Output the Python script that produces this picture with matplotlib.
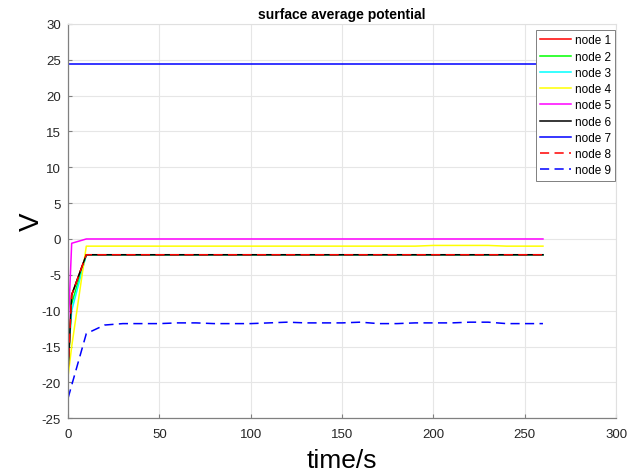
import matplotlib.pyplot as plt

plt.rcParams['font.family'] = ['Liberation Sans', 'DejaVu Sans']
plt.rcParams['axes.unicode_minus'] = False

# sample times (s)
t = [0, 2, 10, 20, 30, 40, 50, 60, 70, 80, 90, 100, 110, 120, 130, 140, 150,
     160, 170, 180, 190, 200, 210, 220, 230, 240, 250, 260]
t9 = [0, 10, 20, 30, 40, 50, 60, 70, 80, 90, 100, 110, 120, 130, 140, 150,
      160, 170, 180, 190, 200, 210, 220, 230, 240, 250, 260]

node1 = [-18.5, -7.8, -2.2, -2.2, -2.2, -2.2, -2.2, -2.2, -2.2, -2.2, -2.2, -2.2, -2.2, -2.2,
         -2.2, -2.2, -2.2, -2.2, -2.2, -2.2, -2.2, -2.2, -2.2, -2.2, -2.2, -2.2, -2.2, -2.2]
node2 = [-18.3, -9.0, -2.2, -2.2, -2.2, -2.2, -2.2, -2.2, -2.2, -2.2, -2.2, -2.2, -2.2, -2.2,
         -2.2, -2.2, -2.2, -2.2, -2.2, -2.2, -2.2, -2.2, -2.2, -2.2, -2.2, -2.2, -2.2, -2.2]
node3 = [-17.0, -10.0, -2.2, -2.2, -2.2, -2.2, -2.2, -2.2, -2.2, -2.2, -2.2, -2.2, -2.2, -2.2,
         -2.2, -2.2, -2.2, -2.2, -2.2, -2.2, -2.2, -2.2, -2.2, -2.2, -2.2, -2.2, -2.2, -2.2]
node4 = [-19.2, -15.0, -1.0, -1.0, -1.0, -1.0, -1.0, -1.0, -1.0, -1.0, -1.0, -1.0, -1.0, -1.0,
         -1.0, -1.0, -1.0, -1.0, -1.0, -1.0, -1.0, -0.9, -0.9, -0.9, -0.9, -1.0, -1.0, -1.0]
node5 = [-13.0, -0.6, 0.0, 0.0, 0.0, 0.0, 0.0, 0.0, 0.0, 0.0, 0.0, 0.0, 0.0, 0.0,
         0.0, 0.0, 0.0, 0.0, 0.0, 0.0, 0.0, 0.0, 0.0, 0.0, 0.0, 0.0, 0.0, 0.0]
node6 = [-18.5, -7.8, -2.2, -2.2, -2.2, -2.2, -2.2, -2.2, -2.2, -2.2, -2.2, -2.2, -2.2, -2.2,
         -2.2, -2.2, -2.2, -2.2, -2.2, -2.2, -2.2, -2.2, -2.2, -2.2, -2.2, -2.2, -2.2, -2.2]
node7 = [24.4, 24.4, 24.4, 24.4, 24.4, 24.4, 24.4, 24.4, 24.4, 24.4, 24.4, 24.4, 24.4, 24.4,
         24.4, 24.4, 24.4, 24.4, 24.4, 24.4, 24.4, 24.4, 24.4, 24.4, 24.4, 24.4, 24.4, 24.4]
node8 = [-18.5, -7.8, -2.2, -2.2, -2.2, -2.2, -2.2, -2.2, -2.2, -2.2, -2.2, -2.2, -2.2, -2.2,
         -2.2, -2.2, -2.2, -2.2, -2.2, -2.2, -2.2, -2.2, -2.2, -2.2, -2.2, -2.2, -2.2, -2.2]
node9 = [-22.2, -13.2, -12.0, -11.8, -11.8, -11.8, -11.7, -11.7, -11.8, -11.8, -11.8, -11.7,
         -11.6, -11.7, -11.7, -11.7, -11.6, -11.8, -11.8, -11.7, -11.7, -11.7, -11.6, -11.6,
         -11.8, -11.8, -11.8]

xticks = [0, 50, 100, 150, 200, 250, 300]
yticks = [-25, -20, -15, -10, -5, 0, 5, 10, 15, 20, 25, 30]

fig = plt.figure(figsize=(6.27, 4.77), dpi=100)
ax = fig.add_axes([0.1085, 0.121, 0.874, 0.827])

dash = (0, (6, 3.5))
ax.plot(t, node1, color='#ff0000', lw=1.1, label='node 1')
ax.plot(t, node2, color='#00ff00', lw=1.1, label='node 2')
ax.plot(t, node3, color='#00ffff', lw=1.1, label='node 3')
ax.plot(t, node4, color='#ffff00', lw=1.1, label='node 4')
ax.plot(t, node5, color='#ff00ff', lw=1.1, label='node 5')
ax.plot(t, node6, color='#000000', lw=1.1, label='node 6')
ax.plot(t, node7, color='#0000ff', lw=1.1, label='node 7')
ax.plot(t, node8, color='#ff0000', lw=1.1, ls=dash, label='node 8')
ax.plot(t9, node9, color='#0000ff', lw=1.1, ls=dash, label='node 9')

ax.set_xlim(0, 300)
ax.set_ylim(-25, 30)
ax.set_xticks(xticks)
ax.set_yticks(yticks)
ax.tick_params(direction='in', labelsize=9.5, length=3, colors='#808080',
               labelcolor='#262626', width=0.8)
ax.tick_params(axis='x', pad=7)
ax.tick_params(axis='y', pad=5)
ax.grid(True, color='#e6e6e6', lw=0.8)
ax.set_axisbelow(True)
for side in ['left', 'bottom']:
    ax.spines[side].set_color('#808080')
    ax.spines[side].set_linewidth(0.9)
for side in ['top', 'right']:
    ax.spines[side].set_color('#e0e0e0')
    ax.spines[side].set_linewidth(0.8)

ax.set_title('surface average potential', fontsize=10, fontweight='bold', pad=4)
ax.set_xlabel('time/s', fontsize=19, labelpad=6)
ax.set_ylabel('V', fontsize=20, labelpad=-2)

leg = ax.legend(loc='upper right', bbox_to_anchor=(0.999, 0.985), borderaxespad=0,
                fontsize=8.5, handlelength=2.6, labelspacing=0.36, fancybox=False,
                framealpha=1, handletextpad=0.3, borderpad=0.4)
leg.get_frame().set_edgecolor('#808080')
leg.get_frame().set_linewidth(0.7)

plt.savefig('out.png', dpi=100)
